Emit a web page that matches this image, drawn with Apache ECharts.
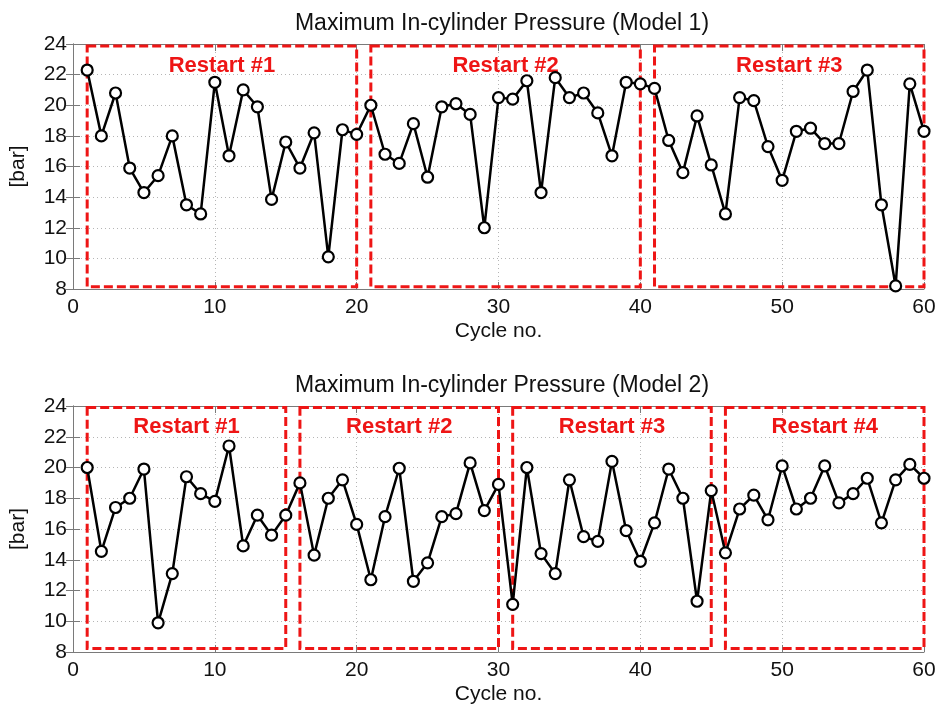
<!DOCTYPE html>
<html>
<head>
<meta charset="utf-8">
<script src="https://cdn.jsdelivr.net/npm/echarts@6/dist/echarts.min.js"></script>
<style>
html,body{margin:0;padding:0;background:#fff;}
#c{width:939px;height:710px;}
</style>
</head>
<body>
<div id="c"></div>
<script>
const cycles = [1,2,3,4,5,6,7,8,9,10,11,12,13,14,15,16,17,18,19,20,
  21,22,23,24,25,26,27,28,29,30,31,32,33,34,35,36,37,38,39,40,
  41,42,43,44,45,46,47,48,49,50,51,52,53,54,55,56,57,58,59,60];

const model1Pressure = [22.3,18.0,20.8,15.9,14.3,15.4,18.0,13.5,12.9,21.5,
  16.7,21.0,19.9,13.85,17.6,15.9,18.2,10.1,18.4,18.1,
  20.0,16.8,16.2,18.8,15.3,19.9,20.1,19.4,12.0,20.5,
  20.4,21.6,14.3,21.8,20.5,20.8,19.5,16.7,21.5,21.4,
  21.1,17.7,15.6,19.3,16.1,12.9,20.5,20.3,17.3,15.1,
  18.3,18.5,17.5,17.5,20.9,22.3,13.5,8.2,21.4,18.3];

const model2Pressure = [20.0,14.55,17.4,18.0,19.9,9.9,13.1,19.4,18.3,17.8,
  21.4,14.9,16.9,15.6,16.9,19.0,14.3,18.0,19.2,16.3,
  12.7,16.8,19.95,12.6,13.8,16.8,17.0,20.3,17.2,18.9,
  11.1,20.0,14.4,13.1,19.2,15.5,15.2,20.4,15.9,13.9,
  16.4,19.9,18.0,11.3,18.5,14.45,17.3,18.2,16.6,20.1,
  17.3,18.0,20.1,17.7,18.3,19.3,16.4,19.2,20.2,19.3];

const restartsModel1 = [[1,20],[21,40],[41,60]];
const restartsModel2 = [[1,15],[16,30],[31,45],[46,60]];
const restartLabels = ['Restart #1','Restart #2','Restart #3','Restart #4'];

const titles = ['Maximum In-cylinder Pressure (Model 1)','Maximum In-cylinder Pressure (Model 2)'];
const xTicks = [0,10,20,30,40,50,60];
const yTicks = [8,10,12,14,16,18,20,22,24];

const FONT = '"Liberation Sans", Arial, sans-serif';
const RED = '#ee1515';
const AX = '#7a7a7a';

function pairs(vals){ return cycles.map((c,i)=>[c, vals[i]]); }

function boxes(ranges, top, bottom){
  return ranges.map((r,i)=>[
    {xAxis:r[0], yAxis:top, name:restartLabels[i]},
    {xAxis:r[1], yAxis:bottom}
  ]);
}

const grids = [
  {left:70, right:15, top:44, height:245},
  {left:71, right:15, top:406, height:246}
];

const xAxes = [], yAxes = [];
[0,1].forEach(g=>{
  const base = {
    type:'value', gridIndex:g, min:xTicks[0], max:xTicks[xTicks.length-1], interval:10,
    axisLine:{show:true, lineStyle:{color:AX, width:1}},
    axisTick:{show:true, inside:true, length:7, lineStyle:{color:AX}},
    splitLine:{show:true, lineStyle:{color:'#b5b5b5', type:[1,3], width:1}}
  };
  xAxes.push(Object.assign({}, base, {
    position:'bottom',
    name:'Cycle no.', nameLocation:'middle', nameGap:32,
    nameTextStyle:{fontFamily:FONT, fontSize:21, color:'#111'},
    axisLabel:{fontFamily:FONT, fontSize:21, color:'#111', margin:8}
  }));
  xAxes.push(Object.assign({}, base, {
    position:'top', axisLabel:{show:false}, splitLine:{show:false}
  }));
  const ybase = {
    type:'value', gridIndex:g, min:yTicks[0], max:yTicks[yTicks.length-1], interval:2,
    axisLine:{show:true, lineStyle:{color:AX, width:1}},
    axisTick:{show:true, inside:true, length:7, lineStyle:{color:AX}},
    splitLine:{show:true, lineStyle:{color:'#b5b5b5', type:[1,3], width:1}}
  };
  yAxes.push(Object.assign({}, ybase, {
    position:'left',
    name:'[bar]', nameLocation:'middle', nameGap:44,
    nameTextStyle:{fontFamily:FONT, fontSize:21, color:'#111'},
    axisLabel:{fontFamily:FONT, fontSize:21, color:'#111', margin:6}
  }));
  yAxes.push(Object.assign({}, ybase, {
    position:'right', axisLabel:{show:false}, splitLine:{show:false}
  }));
});

function lineSeries(vals, g, ranges, top, bottom){
  return {
    type:'line', xAxisIndex:g*2, yAxisIndex:g*2,
    data:pairs(vals),
    symbol:'circle', symbolSize:11,
    itemStyle:{color:'#fff', borderColor:'#000', borderWidth:2.2},
    lineStyle:{color:'#000', width:2.5},
    emphasis:{disabled:true},
    animation:false,
    z:3,
    markArea:{
      silent:true,
      itemStyle:{color:'rgba(0,0,0,0)', borderColor:RED, borderWidth:3, borderType:[9,4]},
      label:{show:true, position:'insideTop', distance:10, color:RED, fontFamily:FONT,
        fontWeight:'bold', fontSize:22},
      data:boxes(ranges, top, bottom)
    }
  };
}

const chart = echarts.init(document.getElementById('c'), null, {renderer:'canvas'});
chart.setOption({
  backgroundColor:'#fff',
  animation:false,
  title:[
    {text:titles[0], left:497, top:7, textAlign:'center',
      textStyle:{fontFamily:FONT, fontSize:23, fontWeight:'normal', color:'#111'}},
    {text:titles[1], left:497, top:369, textAlign:'center',
      textStyle:{fontFamily:FONT, fontSize:23, fontWeight:'normal', color:'#111'}}
  ],
  grid:grids,
  xAxis:xAxes,
  yAxis:yAxes,
  series:[
    lineSeries(model1Pressure, 0, restartsModel1, 23.87, 8.15),
    lineSeries(model2Pressure, 1, restartsModel2, 23.9, 8.22)
  ]
});
</script>
</body>
</html>
